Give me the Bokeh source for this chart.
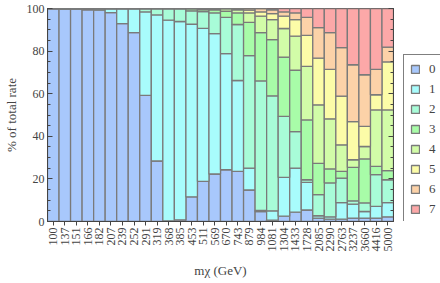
from bokeh.plotting import figure
from bokeh.layouts import row
from bokeh.models import (ColumnDataSource, FactorRange, Range1d, Legend, LegendItem,
                          LinearAxis, FixedTicker)
from bokeh.embed import file_html
from bokeh.resources import INLINE
import math

masses = ["100", "137", "151", "166", "182", "207", "239", "252", "291", "319",
          "368", "385", "453", "511", "569", "670", "743", "879", "984", "1081",
          "1304", "1433", "1728", "2085", "2290", "2763", "3237", "3660", "4416", "5000"]

s0 = [100, 99.8, 99.8, 99.4, 99.2, 98.1, 92.9, 88.7, 59.2, 28.4, 0.3, 0.8, 11.6, 18.8, 22.3,
      24.3, 23.5, 14.8, 4.7, 0.6, 2.5, 4.4, 5.4, 1.6, 1.1, 1.1, 1.6, 1.6, 1.6, 2.2]
s1 = [0, 0.2, 0.2, 0.6, 0.8, 1.9, 7.1, 11.3, 39.2, 68.6, 94.2, 93.1, 81.0, 71.9, 65.9,
      54.5, 42.7, 10.3, 0.5, 4.4, 18.2, 20.7, 13.0, 1.1, 1.1, 7.8, 6.6, 3.1, 5.5, 6.7]
s2 = [0, 0, 0, 0, 0, 0, 0, 0, 1.6, 3.0, 5.5, 6.1, 6.3, 7.9, 9.7,
      17.0, 26.3, 52.8, 60.8, 54.0, 28.7, 17.1, 1.2, 9.9, 15.9, 11.5, 1.5, 4.0, 14.9, 10.7]
s3 = [0, 0, 0, 0, 0, 0, 0, 0, 0, 0, 0, 0, 1.1, 0.9, 1.5,
      2.9, 5.4, 15.6, 22.7, 26.4, 27.8, 28.8, 28.1, 14.7, 6.6, 3.1, 15.7, 20.7, 3.9, 4.3]
s4 = [0, 0, 0, 0, 0, 0, 0, 0, 0, 0, 0, 0, 0, 0.5, 0.6,
      1.3, 1.5, 4.4, 7.7, 9.4, 13.4, 16.0, 25.1, 27.5, 23.5, 12.5, 3.6, 5.8, 26.5, 28.5]
s5 = [0, 0, 0, 0, 0, 0, 0, 0, 0, 0, 0, 0, 0, 0, 0,
      0, 0.6, 1.3, 2.0, 2.8, 5.8, 7.8, 14.6, 21.9, 23.2, 22.9, 17.9, 9.5, 7.1, 22.5]
s6 = [0, 0, 0, 0, 0, 0, 0, 0, 0, 0, 0, 0, 0, 0, 0,
      0, 0, 0.8, 1.6, 1.8, 2.0, 3.1, 8.4, 14.3, 17.3, 22.7, 26.7, 24.2, 11.9, 7.0]
s7 = [0, 0, 0, 0, 0, 0, 0, 0, 0, 0, 0, 0, 0, 0, 0,
      0, 0, 0, 0, 0.6, 1.6, 2.1, 4.2, 9.0, 11.3, 18.4, 26.4, 31.1, 28.6, 18.1]

series_names = ["0", "1", "2", "3", "4", "5", "6", "7"]
colors = ["#a8c8fc", "#a8fcfc", "#a8fcd8", "#a8fca8", "#d2fca8", "#fcfca8", "#fcd2a8", "#fca8a8"]
y_ticks = [0, 20, 40, 60, 80, 100]

FONT = "Liberation Serif"
EDGE = "#7a7a7a"
keys = ["s%d" % i for i in range(8)]
source = ColumnDataSource(dict(x=masses, s0=s0, s1=s1, s2=s2, s3=s3, s4=s4, s5=s5, s6=s6, s7=s7))

H = 280
p = figure(frame_width=346, frame_height=213, output_backend="svg", toolbar_location=None,
           x_range=FactorRange(*masses, range_padding=0), y_range=Range1d(0, 100),
           min_border_left=44, min_border_right=10, min_border_top=8, min_border_bottom=55)
p.background_fill_color = "white"
p.border_fill_color = "white"
p.outline_line_color = "#444444"
p.outline_line_width = 1
p.xgrid.visible = False
p.ygrid.visible = False

rends = p.vbar_stack(keys, x="x", width=1.0, color=colors, line_color=EDGE,
                     line_width=1.3, source=source)

ticker = FixedTicker(ticks=y_ticks, minor_ticks=list(range(0, 101, 5)))
ya = p.yaxis[0]
ya.ticker = ticker
ya.major_tick_in = 5
ya.major_tick_out = 0
ya.minor_tick_in = 3
ya.minor_tick_out = 0
ya.major_label_standoff = 3
ya.axis_label = "% of total rate"
ya.axis_label_standoff = 5
ya.axis_label_text_font = FONT
ya.axis_label_text_font_style = "normal"
ya.axis_label_text_font_size = "13px"
ya.major_label_text_font = FONT
ya.major_label_text_font_size = "12px"
ya.axis_line_color = "#444444"
ya.major_tick_line_color = "#444444"
ya.minor_tick_line_color = "#444444"

ra = LinearAxis(ticker=ticker, major_label_text_color=None, major_label_text_font_size="1px",
                major_tick_in=5, major_tick_out=0, minor_tick_in=3, minor_tick_out=0,
                axis_line_color="#444444", major_tick_line_color="#444444",
                minor_tick_line_color="#444444", major_label_standoff=0)
p.add_layout(ra, "right")

xa = p.xaxis[0]
xa.major_label_orientation = math.pi / 2
xa.major_tick_in = 0
xa.major_tick_out = 4
xa.major_label_standoff = 2
xa.major_label_text_font = FONT
xa.major_label_text_font_size = "12px"
xa.axis_label = "m\u03c7 (GeV)"
xa.axis_label_standoff = 8
xa.axis_label_text_font = FONT
xa.axis_label_text_font_style = "normal"
xa.axis_label_text_font_size = "13px"
xa.axis_line_color = "#444444"
xa.major_tick_line_color = "#444444"

# legend panel (proxy glyphs lie outside its visible range)
q = figure(width=40, height=H, output_backend="svg", toolbar_location=None,
           x_axis_type=None, y_axis_type=None, x_range=Range1d(0, 1), y_range=Range1d(0, 1),
           min_border=0)
q.outline_line_color = None
q.xgrid.visible = False
q.ygrid.visible = False
proxies = [q.vbar(x=[5], top=[6], bottom=[5], width=1, fill_color=colors[i],
                  line_color=EDGE, line_width=1.3) for i in range(8)]
items = [LegendItem(label=series_names[i], renderers=[proxies[i]]) for i in range(8)]
legend = Legend(items=items, location=(0, -3), orientation="vertical",
                glyph_width=10, glyph_height=10, label_height=14, label_width=7, spacing=4,
                padding=6, margin=0, label_standoff=9,
                label_text_font=FONT, label_text_font_size="13px",
                border_line_color="black", border_line_width=1.5,
                background_fill_color="white", background_fill_alpha=1)
q.add_layout(legend)

layout = row(p, q)
open("out.html", "w").write(file_html(layout, INLINE))
